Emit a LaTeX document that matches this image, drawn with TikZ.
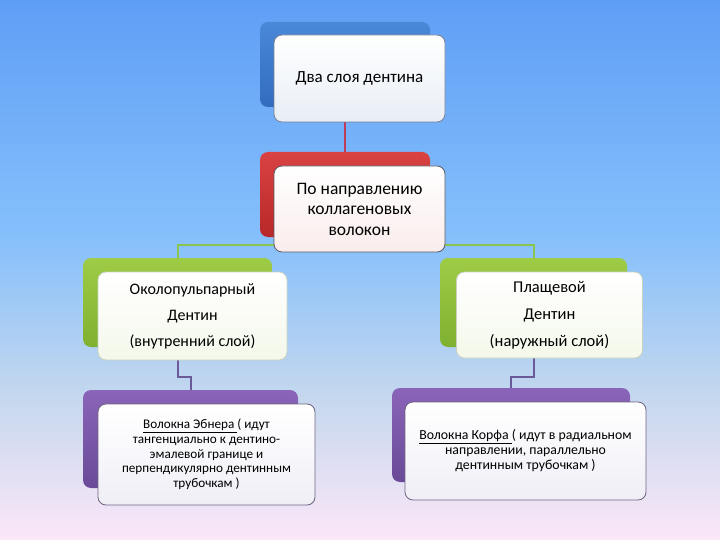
\documentclass[tikz,border=0pt]{standalone}
\usepackage{fontspec}
\setmainfont{Carlito}
\definecolor{bgtop}{HTML}{5F9EF6}
\definecolor{bgmid}{HTML}{86C0FB}
\definecolor{bglav}{HTML}{C6D8EE}
\definecolor{bgbot}{HTML}{FBE7F8}
\pgfdeclareverticalshading{bgshade}{100bp}{color(0bp)=(bgbot); color(25bp)=(bgbot); color(38bp)=(bglav); color(53bp)=(bgmid); color(75bp)=(bgtop); color(100bp)=(bgtop)}
\tikzset{
  back/.style={rounded corners=8pt, inner sep=0pt, draw=none},
  front/.style={rounded corners=8pt, inner sep=0pt, draw={rgb,255:red,120;green,130;blue,150}, line width=0.8pt, align=center, text=black},
  conn/.style={line width=2pt},
}
\begin{document}
\begin{tikzpicture}[x=1pt,y=-1pt]
\shade[shading=bgshade] (0,0) rectangle (720,540);
\useasboundingbox (0,0) rectangle (720,540);
% back boxes
\node[back, top color={rgb,255:red,74;green,136;blue,216}, bottom color={rgb,255:red,50;green,108;blue,190}, minimum width=170pt, minimum height=85pt] (topback) at (345,64.5) {};
\node[back, top color={rgb,255:red,218;green,66;blue,66}, bottom color={rgb,255:red,184;green,40;blue,40}, minimum width=170pt, minimum height=85pt] (redback) at (345,194.5) {};
\node[back, top color={rgb,255:red,158;green,204;blue,70}, bottom color={rgb,255:red,128;green,176;blue,48}, minimum width=189pt, minimum height=89pt] (gL) at (177.5,302.5) {};
\node[back, top color={rgb,255:red,158;green,204;blue,70}, bottom color={rgb,255:red,128;green,176;blue,48}, minimum width=187pt, minimum height=89pt] (gR) at (533.5,302.5) {};
\node[back, top color={rgb,255:red,138;green,100;blue,184}, bottom color={rgb,255:red,106;green,74;blue,152}, minimum width=215pt, minimum height=98pt] (pL) at (190.5,439) {};
\node[back, top color={rgb,255:red,138;green,100;blue,184}, bottom color={rgb,255:red,106;green,74;blue,152}, minimum width=238pt, minimum height=94pt] (pR) at (511,435) {};
% connectors
\coordinate (bus) at (345,245);
\coordinate (busL) at (0,377);
\draw[conn, draw={rgb,255:red,190;green,60;blue,90}] (topback.south) -- (redback.north);
\draw[conn, draw={rgb,255:red,140;green,196;blue,80}] (redback.south) -- (bus) -| (gL.north);
\draw[conn, draw={rgb,255:red,140;green,196;blue,80}] (bus) -| (gR.north);
\draw[conn, draw={rgb,255:red,106;green,90;blue,154}] (gL.south) -- (gL.south |- busL) -| (pL.north);
\draw[conn, draw={rgb,255:red,106;green,90;blue,154}] (gR.south) -- (gR.south |- busL) -| (pR.north);
% front boxes
\node[front, top color=white, bottom color={rgb,255:red,232;green,238;blue,246}, minimum width=171pt, minimum height=87pt, font=\fontsize{17}{20}\selectfont] (topfront) at (359.5,78.5) {Два слоя дентина};
\node[front, top color=white, bottom color={rgb,255:red,250;green,236;blue,236}, draw={rgb,255:red,90;green,90;blue,100}, minimum width=171pt, minimum height=86pt, font=\fontsize{17.5}{20.5}\selectfont] (redfront) at (359.5,209) {По направлению\\коллагеновых\\волокон};
\node[front, top color=white, bottom color={rgb,255:red,244;green,248;blue,234}, draw={rgb,255:red,200;green,210;blue,190}, minimum width=189pt, minimum height=88pt, font=\fontsize{16}{26}\selectfont] (gLf) at (192.5,316) {Околопульпарный\\Дентин\\(внутренний слой)};
\node[front, top color=white, bottom color={rgb,255:red,244;green,248;blue,234}, draw={rgb,255:red,200;green,210;blue,190}, minimum width=186pt, minimum height=86pt, font=\fontsize{16.5}{27}\selectfont] (gRf) at (549.5,315) {Плащевой\\Дентин\\(наружный слой)};
\node[front, top color=white, bottom color={rgb,255:red,240;green,238;blue,246}, draw={rgb,255:red,110;green,100;blue,130}, minimum width=217pt, minimum height=101pt, font=\fontsize{13.2}{14.7}\selectfont] (pLf) at (206.5,454.5) {\underline{Волокна Эбнера }( идут\\тангенциально к дентино-\\эмалевой границе и\\перпендикулярно дентинным\\трубочкам )};
\node[front, top color=white, bottom color={rgb,255:red,240;green,238;blue,246}, draw={rgb,255:red,110;green,100;blue,130}, minimum width=241pt, minimum height=98pt, font=\fontsize{13.8}{15}\selectfont] (pRf) at (525.5,451) {\underline{Волокна Корфа }( идут в радиальном\\направлении, параллельно\\дентинным трубочкам )};
\end{tikzpicture}
\end{document}
